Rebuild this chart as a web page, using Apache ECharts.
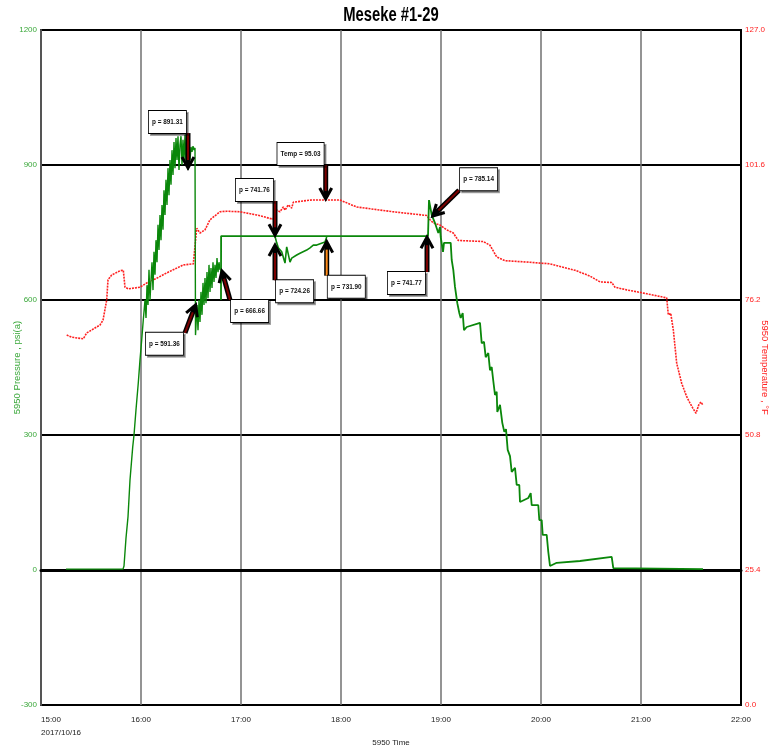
<!DOCTYPE html>
<html>
<head>
<meta charset="utf-8">
<script src="https://cdn.jsdelivr.net/npm/echarts@6/dist/echarts.min.js"></script>
<style>
html,body{margin:0;padding:0;background:#fff;}
#chart{width:777px;height:753px;}
</style>
</head>
<body>
<div id="chart"></div>
<script>
// ---------- DATA (time in hours of day, 2017/10/16) ----------
const chartTitle = 'Meseke #1-29';
const xTicks = ['15:00','16:00','17:00','18:00','19:00','20:00','21:00','22:00'];
const dateLabel = '2017/10/16';

// Pressure, part 1 (build-up and first fall-off)
const pressTime1 = [15.25,15.82,15.83,15.85,15.87,15.89,15.917,15.93,15.95,15.973,15.99,16.007,16.023,16.04,
 16.05,16.06,16.07,16.08,16.09,16.10,16.11,16.12,16.13,16.14,16.15,16.16,16.17,16.18,16.19,16.20,16.21,16.22,16.23,16.24,
 16.25,16.26,16.27,16.28,16.29,16.30,16.31,16.32,16.33,16.34,16.35,16.36,16.37,16.38,16.39,16.40,16.41,16.42,16.43,16.44,
 16.45,16.46,16.47,16.48,16.49,16.50,16.51,16.52,16.53,16.54,
 16.545,16.56,16.57,16.58,16.59,16.60,16.61,16.62,16.63,16.64,16.65,16.66,16.67,16.68,16.69,16.70,16.71,16.72,16.73,16.74,
 16.75,16.76,16.77,16.78,16.79];
const pressure1 = [2,2,9,71,118,200,273,300,356,416,467,511,556,600,
 560,633,589,667,600,644,684,622,707,656,733,684,767,711,789,733,811,756,844,789,
 867,811,893,833,911,856,933,878,951,893,960,911,964,889,944,964,900,956,911,967,
 900,933,889,929,911,940,929,942,933,938,
 522,589,533,600,551,618,567,638,589,649,593,662,604,678,618,671,627,684,640,678,
 649,693,662,684,667];

// Pressure, part 2 (plateau and final decline)
const pressTime2 = [16.80,16.801,18.87,18.88,18.907,18.94,18.973,18.99,18.997,19.017,19.02,19.03,19.097,19.107,19.123,19.14,
 19.163,19.183,19.197,19.217,19.23,19.257,19.39,19.407,19.43,19.447,19.473,19.49,19.507,19.523,19.54,19.557,19.563,19.59,
 19.613,19.633,19.65,19.667,19.69,19.707,19.74,19.757,19.783,19.79,19.873,19.897,19.907,19.973,19.983,20.007,20.017,20.057,
 20.073,20.09,20.157,20.39,20.707,20.723,21.62];
const pressure2 = [600,742,742,822,789,771,749,762,740,744,707,727,727,689,667,629,
 593,571,560,571,533,540,549,504,507,473,482,444,451,420,389,396,351,367,
 327,307,313,267,253,218,227,189,189,151,160,171,144,144,111,111,78,78,
 40,9,16,20,29,4,2];

// Pressure, part 3 (second gauge segment 17:20 - 17:51)
const pressTime3 = [17.34,17.357,17.373,17.39,17.407,17.423,17.44,17.457,17.473,17.49,17.507,17.523,17.557,17.59,17.657,17.69,17.723,17.74,17.757,17.84,17.857];
const pressure3 = [741.76,727,716,718,707,711,682,718,718,684,693,696,700,704,711,716,722,718,722,729,740];

// Temperature (°F)
const tempTime = [15.257,15.307,15.423,15.457,15.59,15.62,15.657,15.67,15.707,15.79,15.823,15.84,15.873,15.99,16.057,16.157,
 16.257,16.357,16.423,16.523,16.54,16.557,16.59,16.64,16.69,16.79,16.857,16.99,17.157,17.32,17.357,17.39,17.423,17.44,17.473,
 17.507,17.523,17.69,17.847,17.99,18.157,18.52,18.857,18.89,18.923,18.99,19.057,19.123,19.173,19.423,19.49,19.557,19.64,19.89,
 20.09,20.34,20.49,20.59,20.707,20.74,20.857,21.0,21.257,21.273,21.297,21.323,21.357,21.407,21.457,21.49,21.517,21.55,21.58,21.60,21.62];
const temperature = [69.6,69.2,68.9,70.0,71.5,72.4,76.2,80.0,80.9,81.7,81.8,78.6,78.3,78.6,79.4,80.3,
 81.3,82.2,82.8,83.0,83.2,89.7,88.8,89.4,91.3,92.8,92.9,92.8,92.2,91.4,93.1,92.8,93.7,93.1,94.1,
 93.5,94.6,95.0,95.03,95.0,93.7,92.8,92.1,91.3,90.7,90.3,89.4,88.8,87.4,87.2,86.5,84.3,83.6,83.3,
 83.0,81.8,80.7,79.6,79.5,78.6,78.1,77.6,76.6,73.4,73.7,70.6,64.3,60.5,58.0,56.8,55.9,54.9,56.6,57.0,56.4];

// Annotations: label text, axis (0 pressure / 1 temperature), arrow tip and arrow tail (data units)
const annoText  = ['p = 891.31','Temp = 95.03','p = 741.76','p = 724.26','p = 731.90','p = 741.77','p = 785.14','p = 591.36','p = 666.66'];
const annoAxis  = [0,1,0,0,0,0,0,0,0];
const annoTipX  = [16.47,17.847,17.34,17.34,17.857,18.86,18.91,16.55,16.807];
const annoTipY  = [891.31,95.03,741.76,724.26,731.90,741.77,785.14,591.36,666.66];
const annoTailX = [16.47,17.847,17.34,17.34,17.857,18.86,19.18,16.44,16.89];
const annoTailY = [971,101.6,820,644,654,662,844,527,600];

// ---------- presentation ----------
const boxCorner = ['br','br','br','tl','tl','tr','bl','tr','tl'];
const arrowCore = ['#7a0000','#7a0000','#7a0000','#7a0000','#ff8c1a','#7a0000','#7a0000','#7a0000','#7a0000'];
const SANS = "'Liberation Sans',Arial,sans-serif";
const GREEN = '#0a870a';
const LGREEN = '#3aa83a';
const RED = '#ff2020';

function zip(a,b){ return a.map((v,i)=>[v,b[i]]); }

const chart = echarts.init(document.getElementById('chart'), null, {renderer:'canvas'});
const option = {
  animation:false,
  backgroundColor:'#fff',
  grid:{ left:41, right:36, top:30, bottom:48, containLabel:false, outerBoundsMode:'none',
    show:true, borderColor:'#000', borderWidth:2, backgroundColor:'#fff' },
  xAxis:{ type:'value', min:15, max:22, interval:1,
    axisLine:{ lineStyle:{ color:'#000', width:3 } },
    axisTick:{ show:false },
    axisLabel:{ fontFamily:SANS, fontSize:8, color:'#222', margin:8, lineHeight:13, alignMinLabel:'left',
      formatter:(v)=>{ const i=Math.round(v-15); return i===0 ? xTicks[0]+'\n'+dateLabel : xTicks[i]; } },
    splitLine:{ show:true, lineStyle:{ color:'#707070', width:1.5 } },
    name:'5950 Time', nameLocation:'middle', nameGap:34, nameMoveOverlap:false,
    nameTextStyle:{ fontFamily:SANS, fontSize:8, color:'#222' } },
  yAxis:[
    { type:'value', min:-300, max:1200, interval:300, position:'left',
      axisLine:{ show:true, lineStyle:{ color:'#555', width:2 } },
      axisTick:{ show:false },
      axisLabel:{ fontFamily:SANS, fontSize:8, color:LGREEN, margin:4, formatter:(v)=>String(v) },
      splitLine:{ show:true, lineStyle:{ color:'#000', width:2 } },
      name:'5950 Pressure , psi(a)', nameLocation:'middle', nameGap:19, nameRotate:90, nameMoveOverlap:false,
      nameTextStyle:{ fontFamily:SANS, fontSize:9.5, color:LGREEN } },
    { type:'value', min:0, max:127, interval:25.4, position:'right',
      axisLine:{ show:true, lineStyle:{ color:'#000', width:2 } },
      axisTick:{ show:false },
      axisLabel:{ fontFamily:SANS, fontSize:8, color:RED, margin:4, formatter:(v)=>v.toFixed(1) },
      splitLine:{ show:false },
      name:'5950 Temperature , °F', nameLocation:'middle', nameGap:19, nameRotate:-90, nameMoveOverlap:false,
      nameTextStyle:{ fontFamily:SANS, fontSize:9.5, color:RED } }
  ],
  series:[
    { name:'Temperature', type:'line', yAxisIndex:1, data:zip(tempTime,temperature), symbol:'none',
      lineStyle:{ color:RED, width:1.6, type:[2,1] }, z:3 },
    { name:'Pressure 1', type:'line', data:zip(pressTime1,pressure1), symbol:'none',
      lineStyle:{ color:GREEN, width:1.4 }, z:4 },
    { name:'Pressure 2', type:'line', data:zip(pressTime2,pressure2), symbol:'none',
      lineStyle:{ color:GREEN, width:1.8 }, z:4 },
    { name:'Pressure 3', type:'line', data:zip(pressTime3,pressure3), symbol:'none',
      lineStyle:{ color:GREEN, width:1.6 }, z:4 }
  ]
};
chart.setOption(option);

// ---------- title, annotation arrows and boxes (positioned through the axes) ----------
const gfx = [];
gfx.push({ type:'text', z:120, x:391, y:5, scaleX:0.74, originX:0, originY:0,
  style:{ x:0, y:0, text:chartTitle, font:"bold 20px "+SANS, fill:'#000', align:'center', verticalAlign:'top' } });
for (let i=0;i<annoText.length;i++){
  const finder = { xAxisIndex:0, yAxisIndex:annoAxis[i] };
  const tip = chart.convertToPixel(finder,[annoTipX[i],annoTipY[i]]);
  const tail = chart.convertToPixel(finder,[annoTailX[i],annoTailY[i]]);
  const dx = tip[0]-tail[0], dy = tip[1]-tail[1];
  const len = Math.sqrt(dx*dx+dy*dy);
  const ux = dx/len, uy = dy/len, px = -uy, py = ux;
  const end = [tip[0]-ux*3, tip[1]-uy*3];
  gfx.push({ type:'polyline', z:100, shape:{ points:[tail,end] }, style:{ stroke:'#000', lineWidth:5, fill:null } });
  gfx.push({ type:'polyline', z:101, shape:{ points:[tail,[tip[0]-ux*9,tip[1]-uy*9]] }, style:{ stroke:arrowCore[i], lineWidth:2, fill:null } });
  const hl = 12, hw = 6;
  gfx.push({ type:'polyline', z:102, shape:{ points:[
      [tip[0]-ux*hl+px*hw, tip[1]-uy*hl+py*hw], [tip[0]-ux*1, tip[1]-uy*1], [tip[0]-ux*hl-px*hw, tip[1]-uy*hl-py*hw] ] },
    style:{ stroke:'#000', lineWidth:3, fill:null, lineJoin:'miter' } });
  const c = boxCorner[i];
  const padX = 4, padY = 7;
  const align = c[1]==='r' ? 'right' : 'left';
  const vAlign = c[0]==='b' ? 'bottom' : 'top';
  const ax = tail[0] + (align==='right' ? -2 : 1);
  const ay = tail[1];
  gfx.push({ type:'text', z:110, x: ax, y: ay, originX:0, originY:0, scaleX:0.8,
    style:{ x:0, y:0,
      text:annoText[i], font:"bold 8px "+SANS, fill:'#111', align:align, verticalAlign:vAlign,
      backgroundColor:'#fff', borderColor:'#000', borderWidth:1, padding:[padY,padX],
      shadowColor:'rgba(0,0,0,0.35)', shadowOffsetX:2, shadowOffsetY:2, shadowBlur:0 } });
}
chart.setOption({ graphic: gfx });
</script>
</body>
</html>
